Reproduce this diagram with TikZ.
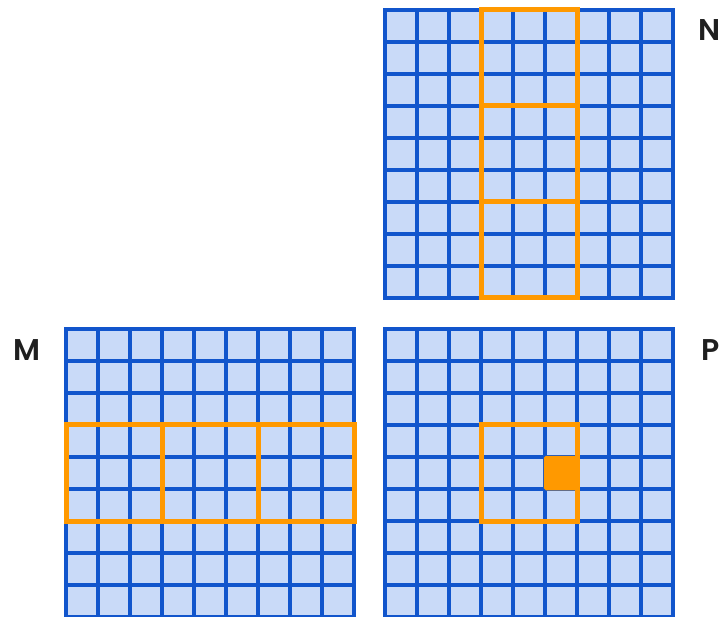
\documentclass[tikz,border=0pt]{standalone}
\usepackage{fontspec}
\newfontfamily\letrafont{Poppins SemiBold}
\usetikzlibrary{positioning}
\definecolor{azul}{HTML}{1155CC}
\definecolor{celeste}{HTML}{C9DAF8}
\definecolor{naranja}{HTML}{FF9900}
\definecolor{tinta}{HTML}{1F1F1F}
\tikzset{
  celda/.style={fill=celeste, draw=none},
  linea/.style={draw=azul, line width=3.6pt, line cap=rect},
  ventana/.style={draw=naranja, line width=5pt},
  marca/.style={fill=naranja, draw=naranja, line width=2.5pt, rounded corners=1.5pt},
  letra/.style={font=\letrafont\fontsize{30}{30}\selectfont, text=tinta, inner sep=0pt}
}
\begin{document}
\begin{tikzpicture}[x=1pt, y=1pt]
  \useasboundingbox (0,0) rectangle (725,616);
  % las tres matrices 9x9: N, M, P
  \foreach \gx/\gy in {385/318, 66/-1, 385/-1} {
    \fill[celda] (\gx,\gy) rectangle ++(288,288);
    \foreach \i in {0,...,9} {
      \draw[linea] (\gx+32*\i,\gy) -- ++(0,288);
      \draw[linea] (\gx,\gy+32*\i) -- ++(288,0);
    }
  }
  % ventanas naranjas
  \foreach \k in {0,1,2} {
    \draw[ventana] (481,318+96*\k) rectangle ++(96,96);
    \draw[ventana] (66+96*\k,95) rectangle ++(96,96);
  }
  \draw[ventana] (481,95) rectangle ++(96,96);
  \filldraw[marca] (545,127) rectangle ++(32,32);
  % etiquetas
  \node (ln) [letra] at (710,586) {N};
  \node (lm) [letra] at (27,266) {M};
  \node (lp) [letra] at (711,266) {P};
\end{tikzpicture}
\end{document}
